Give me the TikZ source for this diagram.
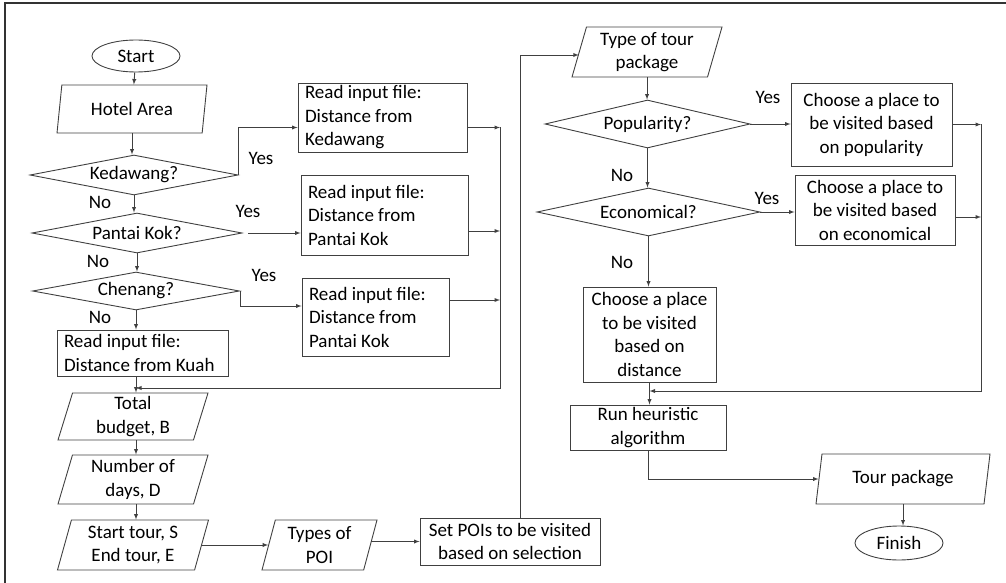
\documentclass[tikz,border=0pt]{standalone}
\usepackage{fontspec}
\setmainfont{Carlito}
\usepackage{tikz}
\usetikzlibrary{shapes}
\usetikzlibrary{shapes.geometric}
\usetikzlibrary{arrows}
\definecolor{linegray}{rgb}{0.25,0.25,0.25}

\begin{document}
\begin{tikzpicture}[x=1pt,y=-1pt,->,>=latex,draw=linegray,line width=0.9pt,font=\fontsize{19}{23.5}\selectfont]
	\tikzstyle{every node}=[draw=linegray,text=black,line width=0.9pt,inner sep=0pt]
	\tikzstyle{term}=[ellipse]
	\tikzstyle{io}=[trapezium,trapezium left angle=70,trapezium right angle=110,trapezium stretches body,align=center]
	\tikzstyle{dec}=[diamond,aspect=5]
	\tikzstyle{proc}=[rectangle,align=center]
	\tikzstyle{readf}=[rectangle,align=flush left,inner xsep=7pt]
	\tikzstyle{lbl}=[draw=none]
	\useasboundingbox (0,0) rectangle (1006,583);
	\draw[-,line width=1.5pt,black!80] (5,583) -- (5,3) -- (1006,3);

	% left column
	\node (START)[term,minimum width=88,minimum height=32] at (136,56) {Start};
	\node (HOTEL)[io,minimum width=150,minimum height=48] at (132,109) {Hotel Area};
	\node (KED)[dec,minimum width=208,minimum height=40] at (134,175) {Kedawang?};
	\node (PK)[dec,minimum width=210,minimum height=40] at (137,233) {Pantai Kok?};
	\node (CH)[dec,minimum width=207,minimum height=38] at (136,291) {Chenang?};
	\node (KUAH)[readf,text width=157,minimum height=46] at (142.5,353) {Read input file:\\Distance from Kuah};
	\node (TOTAL)[io,minimum width=150,minimum height=47] at (133,416.5) {Total\\budget, B};
	\node (DAYS)[io,minimum width=150,minimum height=49] at (133,479.5) {Number of\\days, D};
	\node (TOUR)[io,minimum width=151,minimum height=50] at (133,545) {Start tour, S\\End tour, E};
	\node (POI)[io,minimum width=115,minimum height=50] at (319.5,545) {Types of\\POI};
	\node (SET)[proc,minimum width=180,minimum height=47] at (510,541.5) {Set POIs to be visited\\based on selection};

	\node (RKED)[readf,text width=155,minimum height=69] at (382.5,117.5) {Read input file:\\Distance from\\Kedawang};
	\node (RPK)[readf,text width=153,minimum height=80] at (384.5,215) {Read input file:\\Distance from\\Pantai Kok};
	\node (RCH)[readf,text width=133,minimum height=78] at (375.5,317) {Read input file:\\Distance from\\Pantai Kok};

	% right column
	\node (TYPE)[io,minimum width=150,minimum height=50] at (647,52) {Type of tour\\package};
	\node (POP)[dec,minimum width=205,minimum height=48] at (647.5,124) {Popularity?};
	\node (ECO)[dec,minimum width=223,minimum height=48] at (648.5,212) {Economical?};
	\node (RPOP)[proc,minimum width=161,minimum height=83] at (871.5,124.5) {Choose a place to\\be visited based\\on popularity};
	\node (RECO)[proc,minimum width=160,minimum height=70] at (875,210) {Choose a place to\\be visited based\\on economical};
	\node (DIST)[proc,minimum width=133,minimum height=95] at (649.5,334.5) {Choose a place\\to be visited\\based on\\distance};
	\node (RUN)[proc,minimum width=156,minimum height=45] at (648,427.5) {Run heuristic\\algorithm};
	\node (TPKG)[io,minimum width=174,minimum height=50] at (903,479) {Tour package};
	\node (FIN)[term,minimum width=88,minimum height=34] at (899,543) {Finish};

	% yes / no
	\node (Y1)[lbl] at (261,158) {Yes};
	\node (N1)[lbl] at (100,202) {No};
	\node (Y2)[lbl] at (248,211) {Yes};
	\node (N2)[lbl] at (98,261) {No};
	\node (Y3)[lbl] at (264,275) {Yes};
	\node (N3)[lbl] at (100,317) {No};
	\node (Y4)[lbl] at (768,97) {Yes};
	\node (N4)[lbl] at (622,175) {No};
	\node (Y5)[lbl] at (767,198) {Yes};
	\node (N5)[lbl] at (622,262) {No};

	\coordinate (JL) at (500,388);
	\coordinate (JR) at (981,391);
	\coordinate (K1) at ([yshift=-10pt]RKED.east);
	\coordinate (K2) at ([yshift=-16pt]RPK.east);
	\coordinate (K3) at ([yshift=17pt]RCH.east);
	\coordinate (E1) at ([yshift=-7pt]RECO.east);

	\draw (START) -- (HOTEL);
	\draw (HOTEL.south) -- (HOTEL.south |- KED.north);
	\draw (KED.east) |- ([yshift=-10pt]RKED.west);
	\draw (KED.south) -- (KED.south |- PK.north);
	\draw ([xshift=6pt]PK.east) -- (RPK.west |- PK.east);
	\draw (PK.south) -- (PK.south |- CH.north);
	\draw (CH.east) |- ([yshift=11pt]RCH.west);
	\draw (CH.south) -- (CH.south |- KUAH.north);
	\draw (KUAH.south -| CH.south) -- (TOTAL.north -| CH.south);

	\draw (K1) -- (K1 -| JL);
	\draw (K2) -- (K2 -| JL);
	\draw (K3) -- (K3 -| JL);
	\draw (JL |- K1) -- (JL) -- (CH.south |- JL);

	\draw (TOTAL.south -| CH.south) -- (DAYS.north -| CH.south);
	\draw (DAYS.south -| CH.south) -- (TOUR.north -| CH.south);
	\draw (TOUR.east) -- (POI.west |- TOUR.east);
	\draw (SET.west -| POI.east) -- (SET.west);
	\draw ([xshift=10pt]SET.north) |- ([yshift=-3pt]TYPE.west);

	\draw (TYPE.south) -- (TYPE.south |- POP.north);
	\draw (POP.east) -- (RPOP.west |- POP.east);
	\draw (POP.south) -- (POP.south |- ECO.north);
	\draw (ECO.east) -- (RECO.west |- ECO.east);
	\draw (ECO.south) -- (ECO.south |- DIST.north);
	\draw (DIST.south) -- (DIST.south |- RUN.north);

	\draw (RPOP.east) -- (RPOP.east -| JR);
	\draw (E1) -- (E1 -| JR);
	\draw (JR |- RPOP.east) -- (JR) -- (DIST.south |- JR);

	\draw (RUN.south) |- (TPKG.west);
	\draw (TPKG.south) -- (TPKG.south |- FIN.north);
\end{tikzpicture}
\end{document}
